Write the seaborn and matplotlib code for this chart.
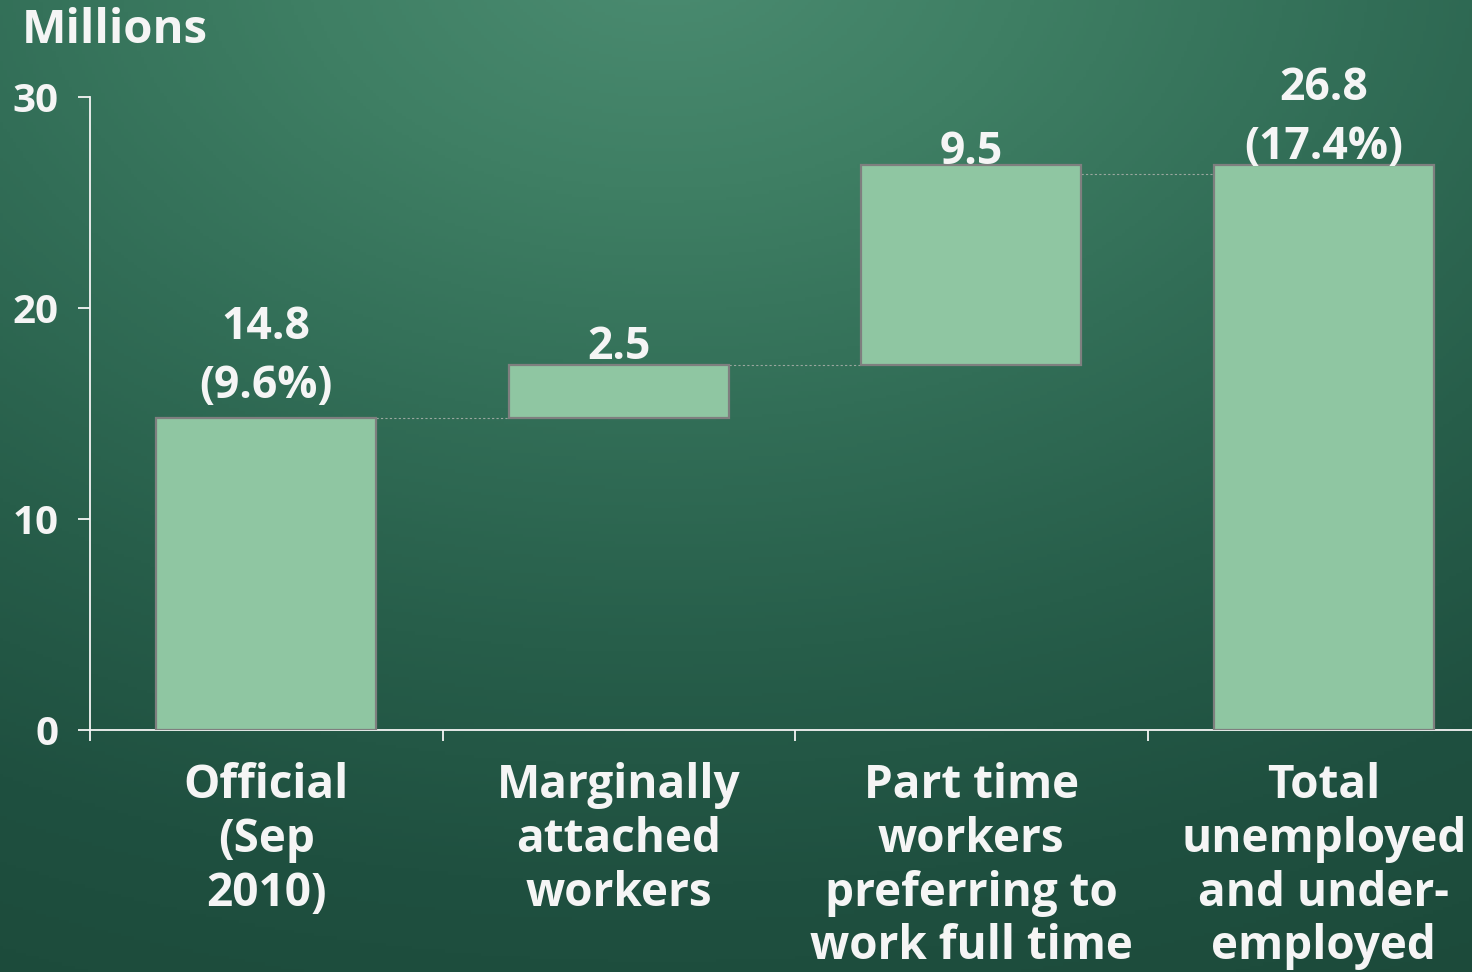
import numpy as np
import matplotlib
matplotlib.use("Agg")
import matplotlib.pyplot as plt
from matplotlib.colors import LinearSegmentedColormap
import seaborn as sns

# ---- data ----
categories = ["Official\n(Sep\n2010)", "Marginally\nattached\nworkers",
              "Part time\nworkers\npreferring to\nwork full time",
              "Total\nunemployed\nand under-\nemployed"]
values = [14.8, 2.5, 9.5, 26.8]
bottoms = [0.0, 14.8, 17.3, 0.0]
value_labels = ["14.8\n(9.6%)", "2.5", "9.5", "26.8\n(17.4%)"]
connector_levels = [14.8, 17.3, 26.35]
y_ticks = [0, 10, 20, 30]
y_label = "Millions"

sns.set_theme(style="white")
plt.rcParams['font.family'] = ['Open Sans', 'DejaVu Sans']
plt.rcParams['font.weight'] = 'bold'

W, H = 1472, 972
fig = plt.figure(figsize=(W / 100, H / 100), dpi=100)

# background gradient
bg = fig.add_axes([0, 0, 1, 1], zorder=-10)
yy, xx = np.mgrid[0:1:300j, 0:1:450j]
d = np.sqrt(((xx - 0.45) * 1.0) ** 2 + ((yy + 0.05) * 1.0) ** 2)
d = np.clip(d / 1.2, 0, 1)
cmap = LinearSegmentedColormap.from_list(
    "g", ["#4b8c71", "#3f7f64", "#326e57", "#275e4a", "#1f5040", "#1c4a3a"])
bg.imshow(d, cmap=cmap, aspect="auto", extent=[0, 1, 1, 0], vmin=0, vmax=1)
bg.set_axis_off()

ax_left, ax_right = 90 / W, 1500 / W
ax_bottom, ax_top = 1 - 730 / H, 1 - 97 / H
ax = fig.add_axes([ax_left, ax_bottom, ax_right - ax_left, ax_top - ax_bottom])
ax.patch.set_alpha(0)

white = "#f5f5f5"
bw = 0.624
sns.barplot(x=categories, y=values, bottom=bottoms, ax=ax, color="#8fc6a2",
            width=bw, edgecolor="#7f7f7f", linewidth=1.6, saturation=1, zorder=3)

# connectors
for i, lvl in enumerate(connector_levels):
    ax.plot([i + bw / 2, i + 1 - bw / 2], [lvl, lvl], ls=(0, (2, 2)), lw=0.8,
            color="#9aa79f", zorder=2)

# value labels
offsets_px = [9, -5, -10, -5]
for i, (lab, v, b) in enumerate(zip(value_labels, values, bottoms)):
    ax.annotate(lab, xy=(i, v + b), xytext=(0, offsets_px[i] * 0.72),
                textcoords="offset points", ha="center", va="bottom",
                fontsize=32, fontweight="bold", color=white, linespacing=1.4,
                zorder=5)

ax.set_xlim(-0.5, 3.5)
ax.set_ylim(0, 30)
ax.set_yticks(y_ticks)
ax.set_xticks([-0.5, 0.5, 1.5, 2.5])
ax.set_xticks(range(4), minor=True)
ax.set_xticklabels([])
ax.set_xticklabels(categories, minor=True)
ax.tick_params(axis="x", which="major", direction="out", length=8, width=1.3,
               color=white, bottom=True)
ax.tick_params(axis="x", which="minor", length=0, pad=23, labelsize=33,
               labelcolor=white)
ax.tick_params(axis="y", direction="out", length=8.6, width=1.3, color=white,
               pad=14, labelsize=29, labelcolor=white, left=True)
for lbl in ax.get_xticklabels(minor=True):
    lbl.set_fontweight("bold")
    lbl.set_linespacing(1.19)
for lbl in ax.get_yticklabels():
    lbl.set_fontweight("bold")
ax.set_xlabel("")
ax.set_ylabel("")
for s in ["top", "right"]:
    ax.spines[s].set_visible(False)
for s in ["left", "bottom"]:
    ax.spines[s].set_color(white)
    ax.spines[s].set_linewidth(1.3)
ax.grid(False)

fig.text(22 / W, 1 - 43 / H, y_label, fontsize=34, fontweight="bold",
         color=white, ha="left", va="baseline")

fig.savefig("out.png", dpi=100)
